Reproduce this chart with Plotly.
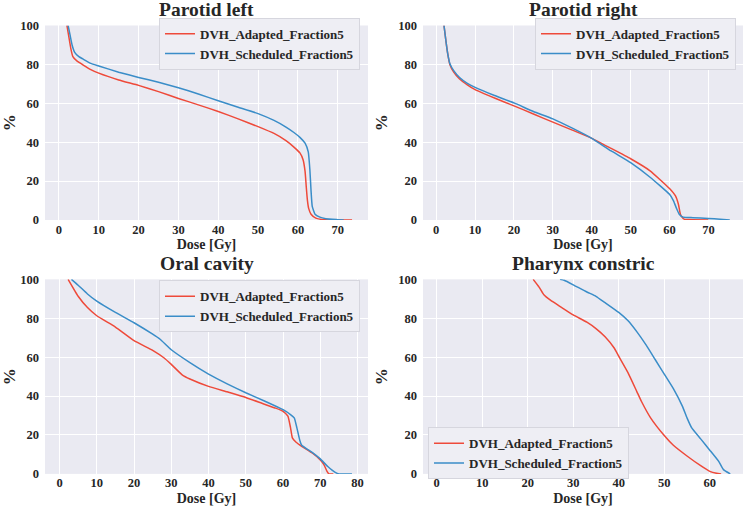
import plotly.graph_objects as go

# ---------------- data (dose [Gy], volume [%]) ----------------
titles = ["Parotid left", "Parotid right", "Oral cavity", "Pharynx constric"]
series_names = ["DVH_Adapted_Fraction5", "DVH_Scheduled_Fraction5"]

pl_adapt_dose = [2.0, 2.5, 3.0, 3.5, 4.5, 6, 8, 10, 15, 20, 25, 30, 35, 40, 45, 50, 54, 57, 59, 60.5, 61.3, 61.8, 62.1, 62.4, 62.7, 63.3, 64.5, 66, 68, 73.6]
pl_adapt_vol = [100, 94, 88, 84, 81.8, 79.8, 77.3, 75.5, 72, 69.2, 66, 62.5, 59.2, 55.8, 52, 48, 44.5, 40.8, 37.5, 34.5, 31, 25, 17, 10, 6, 3, 1, 0.3, 0, 0]
pl_sched_dose = [2.3, 2.8, 3.3, 4, 5, 6, 8, 10, 15, 20, 25, 30, 35, 40, 45, 50, 54, 57, 59, 60.5, 61.8, 62.6, 63.0, 63.3, 63.6, 64.3, 65.5, 67, 70, 71.5]
pl_sched_vol = [100, 95, 90, 86, 84, 82.8, 80.5, 79.2, 76, 73.3, 70.8, 68, 64.8, 61.3, 58, 54.7, 51.2, 47.8, 45, 42.5, 39.5, 35, 26, 15, 7, 3, 1.5, 0.7, 0.2, 0]

pr_adapt_dose = [2.0, 2.5, 3.0, 3.5, 4.5, 6, 8, 10, 15, 20, 25, 30, 35, 40, 45, 50, 55, 60, 61.5, 62.3, 62.8, 63.5, 64, 66, 70]
pr_adapt_vol = [100, 92, 85, 80, 76, 72.5, 69.5, 67, 62.7, 58.7, 54.5, 50.3, 46.2, 42, 36.8, 31.5, 25.3, 16.2, 12.5, 8, 3, 0.8, 0.3, 0.2, 0]
pr_sched_dose = [2.0, 2.5, 3.0, 3.5, 4.5, 6, 8, 10, 15, 20, 25, 30, 35, 40, 45, 50, 55, 60, 61, 61.8, 62.5, 63.5, 66, 70, 73, 75.5]
pr_sched_vol = [100, 92, 85, 80.5, 76.8, 73.3, 70.3, 68.2, 64, 60.2, 55.8, 52, 47.2, 42, 35.5, 29.5, 22, 13.2, 10, 6, 3, 1.5, 1.2, 0.8, 0.4, 0]

oc_adapt_dose = [2.3, 5, 7.5, 10, 15, 20, 25, 28, 30, 33, 35, 40, 45, 50, 55, 58, 60, 61.3, 62, 62.5, 63.5, 65, 68, 70, 71, 71.8, 72.3, 73.5]
oc_adapt_vol = [100, 91.3, 85.5, 81.3, 75.5, 68.5, 63.5, 59.7, 56.3, 50.8, 48.8, 45, 42.2, 39.3, 35.8, 33.8, 32.2, 29.7, 23.8, 18.5, 16.3, 14.2, 10.5, 7.2, 4.7, 1.3, 0, 0]
oc_sched_dose = [3.2, 5, 7.5, 10, 15, 20, 25, 27, 30, 35, 40, 45, 50, 55, 60, 62, 63, 63.7, 64.5, 65, 68, 70, 72, 74, 75, 78.5]
oc_sched_vol = [100, 97, 92.5, 88.8, 83, 77.7, 71.8, 69.2, 63.8, 57.2, 51.3, 46.3, 41.7, 37.5, 33, 30.5, 28.8, 23.8, 17.2, 14.7, 10.8, 7.7, 3.8, 0.8, 0, 0]

ph_adapt_dose = [21.2, 22.5, 23.5, 25, 27.5, 30, 33, 35, 37, 39, 40, 42, 44, 45, 47, 50, 52, 55, 58, 60, 61.5, 62.5]
ph_adapt_vol = [100, 96, 92.2, 89.3, 85.5, 81.7, 78, 74.7, 70.5, 64.7, 60.5, 52.2, 42.2, 37.2, 28.8, 19.7, 14.7, 9.2, 4.2, 1.3, 0.3, 0]
ph_sched_dose = [27.1, 28, 30, 33, 35, 37, 40, 42, 44, 46, 48, 50, 52, 54, 55, 56, 58, 60, 62, 63, 64.5]
ph_sched_vol = [100, 99.5, 97.2, 93.5, 91.3, 88, 83, 78.8, 73, 66.3, 58.8, 51.3, 43.8, 34.7, 28.8, 23.8, 18, 12.2, 6.3, 2.2, 0]

x_ranges = [[-3.5, 77.6], [-3.4, 78.9], [-3.9, 82.8], [-3.0, 67.3]]
y_ticks = [0, 20, 40, 60, 80, 100]

panels = [
    (pl_adapt_dose, pl_adapt_vol, pl_sched_dose, pl_sched_vol),
    (pr_adapt_dose, pr_adapt_vol, pr_sched_dose, pr_sched_vol),
    (oc_adapt_dose, oc_adapt_vol, oc_sched_dose, oc_sched_vol),
    (ph_adapt_dose, ph_adapt_vol, ph_sched_dose, ph_sched_vol),
]

# ---------------- style ----------------
W, H = 750, 513
RED = "#EE4A3A"
BLUE = "#3A8DC8"
BG = "#EAEAF2"
FONT = "Liberation Serif, Times New Roman, serif"
TXT = "#262626"


def bfont(size):
    return dict(size=size, family=FONT, color=TXT, weight="bold")


# pixel boxes: (left, right, top, bottom)
boxes = [(45, 368, 19, 219), (423, 743, 19, 219), (45, 368, 280, 480), (423, 743, 280, 480)]
legend_pos = [(360, 11), (736, 11), (360, 281), (428, 432)]
legend_anchor = [("right", "top"), ("right", "top"), ("right", "top"), ("left", "top")]

fig = go.Figure()
layout = dict(
    width=W, height=H, margin=dict(l=0, r=0, t=0, b=0),
    paper_bgcolor="white", plot_bgcolor=BG,
    font=dict(family=FONT, color=TXT, weight="bold"),
    annotations=[],
)

for i, (ad, av, sd, sv) in enumerate(panels):
    n = i + 1
    xa = "x" if n == 1 else f"x{n}"
    ya = "y" if n == 1 else f"y{n}"
    lg = "legend" if n == 1 else f"legend{n}"
    fig.add_trace(go.Scatter(x=ad, y=av, mode="lines", name=series_names[0],
                             line=dict(color=RED, width=1.5, shape="spline", smoothing=0.4),
                             xaxis=xa, yaxis=ya, legend=lg))
    fig.add_trace(go.Scatter(x=sd, y=sv, mode="lines", name=series_names[1],
                             line=dict(color=BLUE, width=1.5, shape="spline", smoothing=0.4),
                             xaxis=xa, yaxis=ya, legend=lg))
    l, r, t, b = boxes[i]
    xkey = "xaxis" if n == 1 else f"xaxis{n}"
    ykey = "yaxis" if n == 1 else f"yaxis{n}"
    layout[xkey] = dict(
        domain=[l / W, r / W], anchor=ya, range=x_ranges[i], dtick=10, tick0=0,
        showgrid=True, gridcolor="white", gridwidth=1, zeroline=False, showline=False,
        ticks="", tickfont=bfont(12.5), ticklabelstandoff=0,
        title=dict(text="<b>Dose [Gy]</b>", font=bfont(14), standoff=3),
    )
    layout[ykey] = dict(
        domain=[1 - b / H, 1 - t / H], anchor=xa, range=[0, 100], tickvals=y_ticks,
        showgrid=True, gridcolor="white", gridwidth=1, zeroline=False, showline=False,
        ticks="", tickfont=bfont(12.5), ticklabelstandoff=5,
        title=dict(text="<b>%</b>", font=bfont(17), standoff=6),
    )
    lx, ly = legend_pos[i]
    xan, yan = legend_anchor[i]
    layout[lg] = dict(
        x=lx / W, y=1 - ly / H, xanchor=xan, yanchor=yan, xref="paper", yref="paper",
        bgcolor="rgba(238,238,244,1)", bordercolor="#D6D6DE", borderwidth=1,
        font=bfont(13), tracegroupgap=0,
    )
    layout["annotations"].append(dict(
        text="<b>" + titles[i] + "</b>", x=(l + r) / 2 / W, y=1 - t / H, xref="paper", yref="paper",
        xanchor="center", yanchor="bottom", showarrow=False, yshift=3,
        font=bfont(19.5),
    ))

fig.update_layout(**layout)
fig.write_html("out.html")
